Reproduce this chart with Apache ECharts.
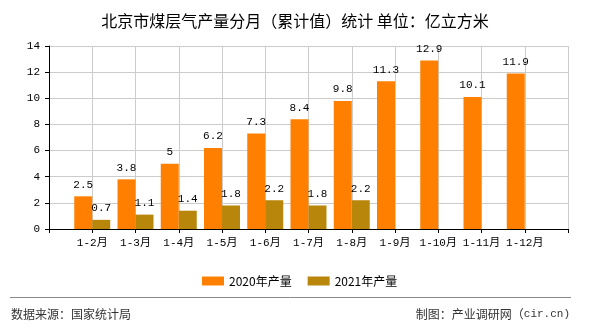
<!DOCTYPE html>
<html>
<head>
<meta charset="utf-8">
<script src="https://cdn.jsdelivr.net/npm/echarts@6/dist/echarts.min.js"></script>
<style>
  html, body { margin: 0; padding: 0; background: #fff; }
  #chart { width: 590px; height: 330px; }
</style>
</head>
<body>
<div id="chart"></div>
<script>
// Cumulative monthly coalbed methane output, Beijing (100 million m³)
const months = ['1-2月', '1-3月', '1-4月', '1-5月', '1-6月', '1-7月', '1-8月', '1-9月', '1-10月', '1-11月', '1-12月'];
const output2020 = [2.5, 3.8, 5, 6.2, 7.3, 8.4, 9.8, 11.3, 12.9, 10.1, 11.9];
const output2021 = [0.7, 1.1, 1.4, 1.8, 2.2, 1.8, 2.2];
const seriesNames = ['2020年产量', '2021年产量'];
const yTicks = { min: 0, max: 14, interval: 2 };

// The axis runs edge to edge with an empty slot at each end, so every month sits on a grid line.
const axisCats = [''].concat(months, ['']);
function padded(values) {
  const out = ['-'];
  for (let i = 0; i < months.length; i++) out.push(i < values.length ? values[i] : '-');
  out.push('-');
  return out;
}

const monoFont = '"Liberation Mono", "Noto Sans CJK SC", monospace';
const cjkFont = '"Noto Sans CJK SC", "Liberation Sans", sans-serif';

const chart = echarts.init(document.getElementById('chart'), null, { renderer: 'canvas' });

const barLabel = {
  show: true,
  position: 'top',
  distance: 6,
  color: '#000',
  fontFamily: monoFont,
  fontSize: 11
};

chart.setOption({
  animation: false,
  title: {
    text: '北京市煤层气产量分月（累计值）统计 单位：亿立方米',
    left: 'center',
    top: 8,
    textStyle: { fontFamily: cjkFont, fontSize: 16, fontWeight: 'normal', color: '#000' }
  },
  grid: { left: 49, right: 22, top: 46, bottom: 101, containLabel: false },
  legend: {
    data: seriesNames,
    left: 197,
    top: 270,
    itemWidth: 22,
    itemHeight: 9,
    itemGap: 16,
    icon: 'rect',
    textStyle: { fontFamily: cjkFont, fontSize: 12, color: '#000' }
  },
  xAxis: {
    type: 'category',
    data: axisCats,
    boundaryGap: false,
    axisLine: { lineStyle: { color: '#000', width: 1 } },
    axisTick: { show: true, inside: false, length: 4, lineStyle: { color: '#000' } },
    axisLabel: { color: '#000', fontFamily: monoFont, fontSize: 11, margin: 9, interval: 0 },
    splitLine: { show: true, lineStyle: { color: '#cccccc', width: 1 } }
  },
  yAxis: {
    type: 'value',
    min: yTicks.min,
    max: yTicks.max,
    interval: yTicks.interval,
    axisLine: { show: true, lineStyle: { color: '#000', width: 1 } },
    axisTick: { show: true, length: 4, lineStyle: { color: '#000' } },
    axisLabel: { color: '#000', fontFamily: monoFont, fontSize: 11, margin: 9 },
    splitLine: { show: true, lineStyle: { color: '#cccccc', width: 1 } }
  },
  series: [
    {
      name: seriesNames[0],
      type: 'bar',
      data: padded(output2020),
      barWidth: 18,
      barGap: '0%',
      itemStyle: { color: '#FF8000' },
      label: barLabel
    },
    {
      name: seriesNames[1],
      type: 'bar',
      data: padded(output2021),
      barWidth: 18,
      barGap: '0%',
      itemStyle: { color: '#B8860B' },
      label: barLabel
    }
  ],
  graphic: [
    {
      type: 'line',
      shape: { x1: 10, y1: 297.5, x2: 571, y2: 297.5 },
      style: { stroke: '#888888', lineWidth: 1 }
    },
    {
      type: 'text',
      left: 11,
      top: 308,
      style: { text: '数据来源：国家统计局', fill: '#333', font: '12px ' + cjkFont }
    },
    {
      type: 'text',
      right: 20,
      top: 308,
      style: {
        text: '{a|制图：产业调研网（}{b|cir.cn)}',
        rich: {
          a: { fill: '#333', fontFamily: cjkFont, fontSize: 12 },
          b: { fill: '#333', fontFamily: monoFont, fontSize: 11 }
        }
      }
    }
  ]
});
</script>
</body>
</html>
